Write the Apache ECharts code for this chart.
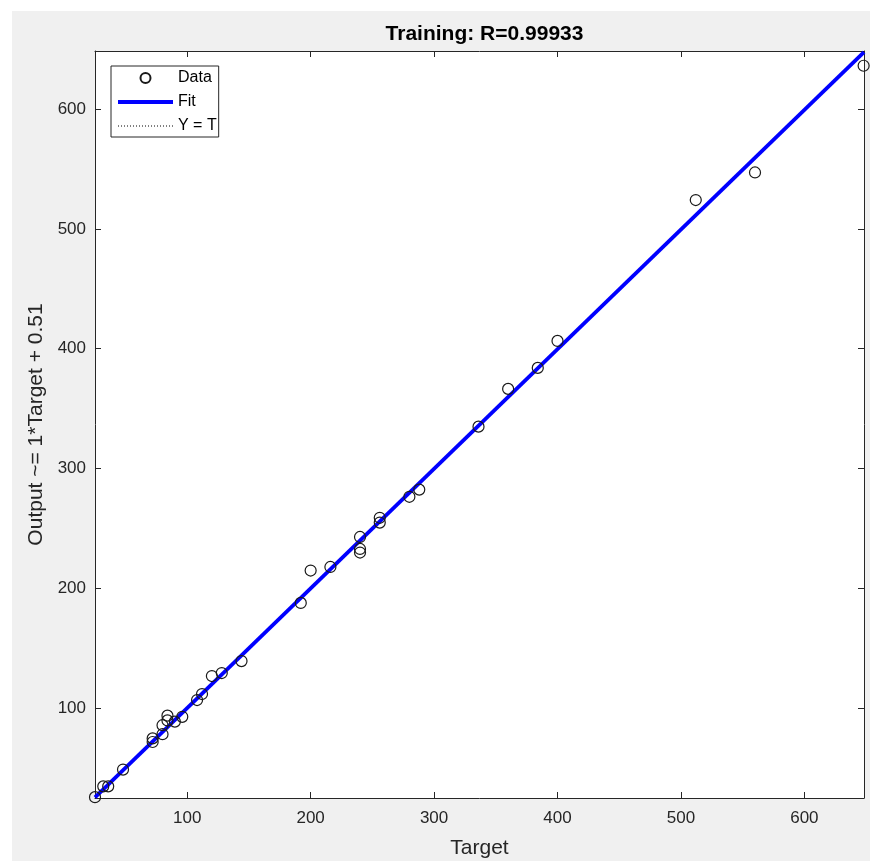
<!DOCTYPE html>
<html><head><meta charset="utf-8">
<script src="https://cdn.jsdelivr.net/npm/echarts@6/dist/echarts.min.js"></script>
<style>html,body{margin:0;padding:0;background:#fff}#c{width:870px;height:861px}</style>
</head><body><div id="c"></div>
<script>
// Data (Target, Output)
const targets = [25.3, 32, 36, 48, 72, 72, 80, 80, 84, 84, 90, 96, 108, 112, 120, 128, 144, 192, 200, 216, 240, 240, 240, 256, 256, 280, 288, 336, 360, 384, 400, 512, 560, 648];
const outputs = [26, 35, 35, 49, 75, 72, 78.5, 86, 94, 90, 89, 93, 107, 112, 127, 129.5, 139.5, 188, 215, 218, 243, 233, 230, 259, 255, 276.5, 282.5, 335, 366.5, 384, 406.5, 524, 547, 636];
const axisMin = 25.3;
const axisMax = 648.3;
const fitLine = [[25.3, 25.8], [648.3, 647.4]];
const identityLine = [[25.3, 25.3], [648.3, 648.3]];
const titleText = 'Training: R=0.99933';
const xName = 'Target';
const yName = 'Output ~= 1*Target + 0.51';
const legendNames = ['Data', 'Fit', 'Y = T'];

const FONT = '"Liberation Sans", Arial, Helvetica, sans-serif';
const AX = '#262626';
const points = targets.map((t, i) => [t, outputs[i]]);

const chart = echarts.init(document.getElementById('c'), null, {renderer: 'canvas'});
const baseAxis = {
  type: 'value', min: axisMin, max: axisMax, scale: true,
  axisLine: {show: true, onZero: false, lineStyle: {color: AX, width: 1}},
  axisTick: {show: true, inside: true, length: 6, lineStyle: {color: AX, width: 1}},
  splitLine: {show: false},
  axisLabel: {show: true, color: AX, fontSize: 17, fontFamily: FONT, showMinLabel: false, showMaxLabel: false}
};
chart.setOption({
  animation: false,
  backgroundColor: '#f0f0f0',
  graphic: [
    {type: 'rect', shape: {x: 0, y: 0, width: 870, height: 11}, style: {fill: '#ffffff'}, z: -10, silent: true},
    {type: 'rect', shape: {x: 0, y: 0, width: 12, height: 861}, style: {fill: '#ffffff'}, z: -10, silent: true}
  ],
  title: {
    text: titleText, left: 479.5, top: 19, textAlign: 'center',
    textStyle: {fontFamily: FONT, fontSize: 21, fontWeight: 'bold', color: '#000'}
  },
  grid: {left: 95, right: 6, top: 51, bottom: 63, show: true, backgroundColor: '#ffffff', borderWidth: 0, containLabel: false, outerBoundsMode: 'none'},
  legend: {
    data: [
      {name: legendNames[0]},
      {name: legendNames[1], itemStyle: {color: 'rgba(0,0,0,0)', borderWidth: 0, opacity: 0}, lineStyle: {width: 4, color: '#0000ff'}},
      {name: legendNames[2], itemStyle: {color: 'rgba(0,0,0,0)', borderWidth: 0, opacity: 0}, lineStyle: {width: 1, color: '#000', type: [1, 2]}}
    ],
    orient: 'vertical', left: 111, top: 66,
    padding: [3, 2, 2, 5], itemWidth: 55, itemHeight: 10, itemGap: 6,
    backgroundColor: '#ffffff', borderColor: AX, borderWidth: 1, borderRadius: 0,
    selectedMode: false,
    textStyle: {fontFamily: FONT, fontSize: 16, color: '#000', lineHeight: 18}
  },
  xAxis: [
    Object.assign({}, baseAxis, {position: 'bottom', name: xName, nameLocation: 'middle', nameGap: 40,
      nameTextStyle: {fontFamily: FONT, fontSize: 21, color: AX},
      axisLabel: Object.assign({}, baseAxis.axisLabel, {margin: 12})}),
    Object.assign({}, baseAxis, {position: 'top', axisLabel: {show: false}})
  ],
  yAxis: [
    Object.assign({}, baseAxis, {position: 'left', name: yName, nameLocation: 'middle', nameGap: 48,
      nameTextStyle: {fontFamily: FONT, fontSize: 21, color: AX},
      axisLabel: Object.assign({}, baseAxis.axisLabel, {margin: 9})}),
    Object.assign({}, baseAxis, {position: 'right', axisLabel: {show: false}})
  ],
  series: [
    {
      name: 'Y = T', type: 'line', data: identityLine, symbol: 'none', z: 2,
      lineStyle: {color: '#000', width: 1, type: [1, 2]}, itemStyle: {color: 'rgba(0,0,0,0)'}
    },
    {
      name: 'Fit', type: 'line', data: fitLine, symbol: 'none', z: 3,
      lineStyle: {color: '#0000ff', width: 3.8}, itemStyle: {color: 'rgba(0,0,0,0)'}
    },
    {
      name: 'Data', type: 'scatter', data: points, symbol: 'circle', symbolSize: 11, z: 4,
      itemStyle: {color: 'rgba(0,0,0,0)', borderColor: '#1a1a1a', borderWidth: 1.2, opacity: 1}
    }
  ]
});
</script>
</body></html>
